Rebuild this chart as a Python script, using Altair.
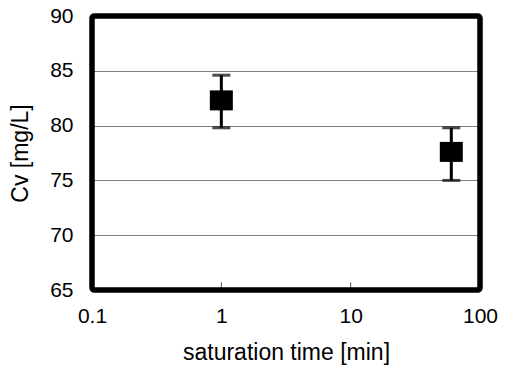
import altair as alt
import pandas as pd

# data
time_min = [1, 60]
cv_mean = [82.3, 77.6]
cv_low = [79.8, 75.0]
cv_high = [84.6, 79.8]
x_ticks = [0.1, 1, 10, 100]
y_ticks = [65, 70, 75, 80, 85, 90]
inner_ticks = [1, 10]

df = pd.DataFrame({"t": time_min, "cv": cv_mean, "lo": cv_low, "hi": cv_high})
tick_df = pd.DataFrame({"t": inner_ticks, "y0": [65] * len(inner_ticks), "y1": [65.7] * len(inner_ticks)})

FONT = "Liberation Sans"

xscale = alt.Scale(type="log", domain=[0.1, 100], nice=False)
yscale = alt.Scale(domain=[65, 90], nice=False, zero=False)

xaxis = alt.Axis(values=x_ticks, format="~g", title="saturation time [min]", grid=False,
                 ticks=False, domain=False, labelPadding=15, titlePadding=15,
                 labelFontSize=21, titleFontSize=23, labelFont=FONT, titleFont=FONT,
                 labelColor="black", titleColor="black", titleFontWeight="normal",
                 labelFlush=False)
yaxis = alt.Axis(values=y_ticks, title="Cv [mg/L]", grid=True, gridColor="#7f7f7f",
                 gridWidth=1, ticks=False, domain=False, labelPadding=19, titlePadding=17,
                 labelFontSize=21, titleFontSize=23, labelFont=FONT, titleFont=FONT,
                 labelColor="black", titleColor="black", titleFontWeight="normal",
                 labelFlush=False)

base = alt.Chart(df)

rules = base.mark_rule(color="black", strokeWidth=3).encode(
    x=alt.X("t:Q", scale=xscale, axis=xaxis),
    y=alt.Y("lo:Q", scale=yscale, axis=yaxis),
    y2="hi:Q",
)
cap_lo = base.mark_tick(color="black", orient="horizontal", size=18, thickness=3).encode(
    x=alt.X("t:Q", scale=xscale), y=alt.Y("lo:Q", scale=yscale))
cap_hi = base.mark_tick(color="black", orient="horizontal", size=18, thickness=3).encode(
    x=alt.X("t:Q", scale=xscale), y=alt.Y("hi:Q", scale=yscale))
pts = base.mark_point(shape="M-1.15,-1H1.15V1H-1.15Z", size=400, filled=True,
                      color="black", opacity=1).encode(
    x=alt.X("t:Q", scale=xscale), y=alt.Y("cv:Q", scale=yscale))

inner = alt.Chart(tick_df).mark_rule(color="#555555", strokeWidth=1).encode(
    x=alt.X("t:Q", scale=xscale), y=alt.Y("y0:Q", scale=yscale), y2="y1:Q")

frame = alt.Chart(df).mark_rect(fill=None, stroke="black", strokeWidth=5,
                                cornerRadius=2).encode(
    x=alt.value(0), x2=alt.value("width"), y=alt.value(0), y2=alt.value("height"))

chart = alt.layer(inner, rules, cap_lo, cap_hi, pts, frame).properties(
    width=388, height=274,
    autosize=alt.AutoSizeParams(type="none"),
    padding={"left": 84, "top": 8, "right": 21, "bottom": 76},
    background="white",
).configure_view(stroke=None)

chart.save("out.html", embed_options={"renderer": "svg", "actions": False})
